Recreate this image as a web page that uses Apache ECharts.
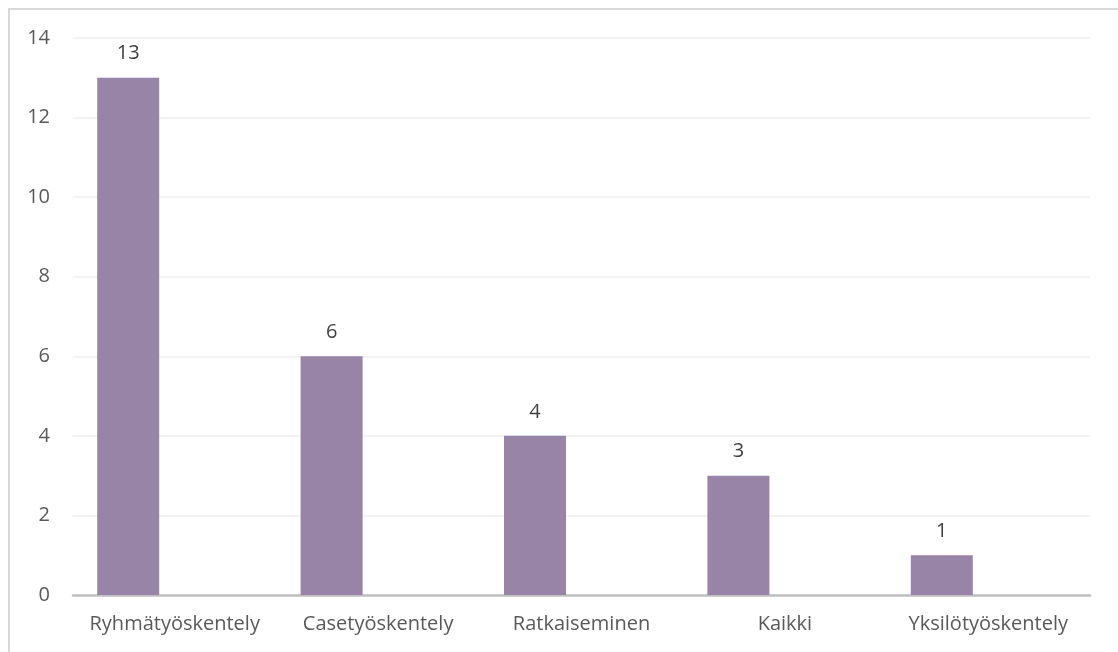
<!DOCTYPE html>
<html>
<head>
<meta charset="utf-8">
<script src="https://cdn.jsdelivr.net/npm/echarts@6/dist/echarts.min.js"></script>
<style>
html,body{margin:0;padding:0;background:#fff;}
#frame{position:absolute;left:8px;top:8px;width:1120px;height:660px;border-left:2px solid #d9d9d9;border-top:2px solid #d9d9d9;box-sizing:border-box;}
#chart{position:absolute;left:0;top:0;width:1118px;height:652px;}
</style>
</head>
<body>
<div id="frame"></div>
<div id="chart"></div>
<script>
const categories = ['Ryhmätyöskentely', 'Casetyöskentely', 'Ratkaiseminen', 'Kaikki', 'Yksilötyöskentely'];
const counts = [13, 6, 4, 3, 1];
// Excel source had an empty second series that reserves the right-hand slot of each group
const emptySeries = [null, null, null, null, null];
const yTicks = { min: 0, max: 14, interval: 2 };

const chart = echarts.init(document.getElementById('chart'), null, { renderer: 'canvas' });
const font = "'Open Sans', 'Noto Sans', sans-serif";
chart.setOption({
  animation: false,
  backgroundColor: 'transparent',
  grid: { left: 73, right: 28, top: 38, bottom: 57, containLabel: false },
  xAxis: {
    type: 'category',
    data: categories,
    axisLine: { show: true, lineStyle: { color: '#bfbfbf', width: 2.5 } },
    axisTick: { show: false },
    axisLabel: { color: '#595959', fontSize: 20, fontFamily: font, margin: 19, interval: 0 },
    splitLine: { show: false }
  },
  yAxis: {
    type: 'value',
    min: yTicks.min, max: yTicks.max, interval: yTicks.interval,
    axisLine: { show: false },
    axisTick: { show: false },
    axisLabel: { color: '#595959', fontSize: 20, fontFamily: font, margin: 23 },
    splitLine: { show: true, lineStyle: { color: '#efefef', width: 1.5 } }
  },
  series: [
    {
      type: 'bar',
      data: counts,
      barWidth: 62,
      barGap: '50%',
      itemStyle: { color: '#9784a7' },
      label: { show: true, position: 'top', distance: 14, color: '#404040', fontSize: 20, fontFamily: font }
    },
    {
      type: 'bar',
      data: emptySeries,
      barWidth: 62,
      barGap: '50%',
      itemStyle: { color: '#9784a7' }
    }
  ]
});
</script>
</body>
</html>
